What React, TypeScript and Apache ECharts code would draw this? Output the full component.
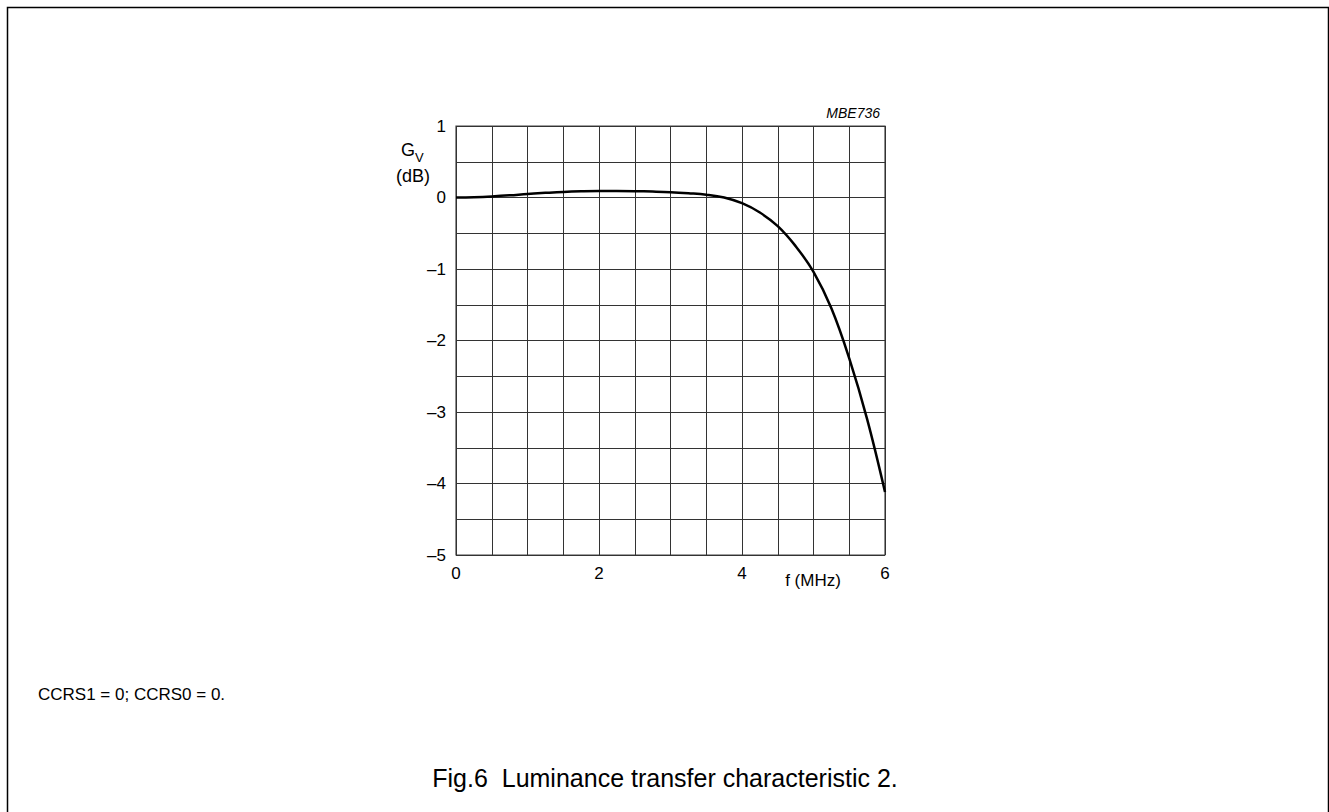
import React, { useEffect, useRef } from "react";
import * as echarts from "echarts";

const freqMHz = [0, 0.25, 0.5, 0.75, 1, 1.25, 1.5, 1.75, 2, 2.25, 2.5, 2.75, 3, 3.25, 3.5, 3.75, 4, 4.25, 4.5, 4.75, 5, 5.25, 5.5, 5.75, 6];
const gainDb = [0, 0.005, 0.015, 0.03, 0.05, 0.065, 0.078, 0.086, 0.09, 0.09, 0.088, 0.083, 0.075, 0.06, 0.04, 0.0, -0.08, -0.21, -0.4, -0.68, -1.04, -1.55, -2.25, -3.1, -4.12];
const xTickLabels = ["0", "2", "4", "6"];
const yTickLabels = ["1", "0", "–1", "–2", "–3", "–4", "–5"];

const FONT = "'Liberation Sans', Arial, Helvetica, sans-serif";

export default function App() {
  const ref = useRef<HTMLDivElement>(null);
  useEffect(() => {
    if (!ref.current) return;
    const chart = echarts.init(ref.current, null, { renderer: "svg" });
    const data = freqMHz.map((f, i) => [f, gainDb[i]]);
    const gridLine = { show: true, lineStyle: { color: "#333", width: 1 } };
    chart.setOption({
      animation: false,
      backgroundColor: "#fff",
      textStyle: { fontFamily: FONT },
      grid: { left: 456, top: 126, width: 429, height: 429, show: true, borderColor: "#444", borderWidth: 1.2, containLabel: false },
      xAxis: {
        type: "value",
        min: 0,
        max: 6,
        interval: 0.5,
        axisLine: { show: false },
        axisTick: { show: false },
        splitLine: gridLine,
        axisLabel: {
          margin: 10,
          fontSize: 17,
          color: "#000",
          fontFamily: FONT,
          formatter: (v: number) => {
            const s = String(Math.round(v * 100) / 100);
            return xTickLabels.includes(s) ? s : "";
          },
        },
      },
      yAxis: {
        type: "value",
        min: -5,
        max: 1,
        interval: 0.5,
        axisLine: { show: false },
        axisTick: { show: false },
        splitLine: gridLine,
        axisLabel: {
          margin: 10,
          fontSize: 17,
          color: "#000",
          fontFamily: FONT,
          formatter: (v: number) => {
            if (!Number.isInteger(v)) return "";
            const s = v < 0 ? "–" + Math.abs(v) : String(v);
            return yTickLabels.includes(s) ? s : "";
          },
        },
      },
      graphic: [
        { type: "rect", shape: { x: 7.5, y: 7.5, width: 1321, height: 900 }, style: { fill: "none", stroke: "#000", lineWidth: 1.5 }, silent: true },
        { type: "text", x: 880, y: 113, style: { text: "MBE736", fontSize: 14, fontStyle: "italic", fontFamily: FONT, fill: "#000", align: "right", verticalAlign: "middle" } },
        { type: "text", x: 401, y: 150, style: { text: "G", fontSize: 18, fontFamily: FONT, fill: "#000", align: "left", verticalAlign: "middle" } },
        { type: "text", x: 415, y: 157, style: { text: "V", fontSize: 13, fontFamily: FONT, fill: "#000", align: "left", verticalAlign: "middle" } },
        { type: "text", x: 413, y: 176, style: { text: "(dB)", fontSize: 18, fontFamily: FONT, fill: "#000", align: "center", verticalAlign: "middle" } },
        { type: "text", x: 813, y: 580, style: { text: "f (MHz)", fontSize: 17, fontFamily: FONT, fill: "#000", align: "center", verticalAlign: "middle" } },
        { type: "text", x: 38, y: 694, style: { text: "CCRS1 = 0; CCRS0 = 0.", fontSize: 17, fontFamily: FONT, fill: "#000", align: "left", verticalAlign: "middle" } },
        { type: "text", x: 665, y: 778, style: { text: "Fig.6  Luminance transfer characteristic 2.", fontSize: 25, fontFamily: FONT, fill: "#000", align: "center", verticalAlign: "middle" } },
      ],
      series: [
        {
          type: "line",
          data,
          smooth: 0.4,
          symbol: "none",
          lineStyle: { color: "#000", width: 2.5 },
          clip: false,
        },
      ],
    });
    return () => chart.dispose();
  }, []);
  return <div ref={ref} style={{ position: "fixed", left: 0, top: 0, width: 1329, height: 812 }} />;
}
